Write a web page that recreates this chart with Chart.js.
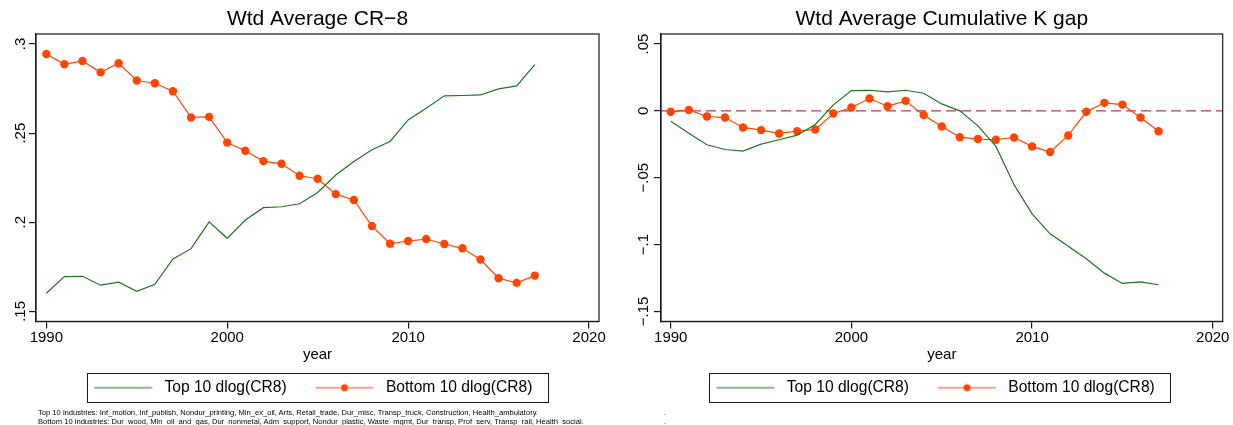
<!DOCTYPE html>
<html>
<head>
<meta charset="utf-8">
<script src="https://cdn.jsdelivr.net/npm/chart.js@4/dist/chart.umd.min.js"></script>
<style>
  html, body { margin: 0; padding: 0; background: #fff; }
  body { width: 1233px; height: 425px; position: relative; overflow: hidden; font-family: "Liberation Sans", Arial, sans-serif; }
  canvas { position: absolute; top: 0; }
  .note { position: absolute; font-size: 7.6px; line-height: 9px; color: #000; white-space: nowrap; }
</style>
</head>
<body>
<canvas id="cr8" width="616" height="425" style="left:0"></canvas>
<canvas id="kgap" width="616" height="425" style="left:617px"></canvas>
<div class="note" style="left:38px; top:407.5px">Top 10 industries: Inf_motion, Inf_publish, Nondur_printing, Min_ex_oil, Arts, Retail_trade, Dur_misc, Transp_truck, Construction, Health_ambulatory.<br>Bottom 10 industries: Dur_wood, Min_oil_and_gas, Dur_nonmetal, Adm_support, Nondur_plastic, Waste_mgmt, Dur_transp, Prof_serv, Transp_rail, Health_social.</div>
<div class="note" style="left:664px; top:407.5px">.<br>.</div>
<script>
// years on the x axis
const YEARS = [1990, 1991, 1992, 1993, 1994, 1995, 1996, 1997, 1998, 1999,
  2000, 2001, 2002, 2003, 2004, 2005, 2006, 2007, 2008, 2009,
  2010, 2011, 2012, 2013, 2014, 2015, 2016, 2017];

// left panel: weighted average CR-8
const CR8_TOP = [0.1602, 0.1695, 0.1697, 0.1647, 0.1664, 0.1613, 0.1652, 0.1794, 0.1852, 0.2002,
  0.1910, 0.2013, 0.2082, 0.2087, 0.2104, 0.2167, 0.2265, 0.2341, 0.2407, 0.2453,
  0.2574, 0.2640, 0.2709, 0.2711, 0.2714, 0.2748, 0.2765, 0.2884];
const CR8_BOTTOM = [0.2944, 0.2886, 0.2905, 0.2841, 0.2892, 0.2795, 0.2780, 0.2735, 0.2588, 0.2591,
  0.2447, 0.2401, 0.2343, 0.2328, 0.2261, 0.2244, 0.2158, 0.2125, 0.1979, 0.1880,
  0.1895, 0.1906, 0.1878, 0.1854, 0.1791, 0.1686, 0.1660, 0.1701];

// right panel: weighted average cumulative K gap
const KGAP_TOP = [-0.0077, -0.0167, -0.0254, -0.0289, -0.0301, -0.0249, -0.0216, -0.0182, -0.0102, 0.0045,
  0.0152, 0.0154, 0.0142, 0.0154, 0.0132, 0.0052, 0.0000, -0.0112, -0.0266, -0.0552,
  -0.0771, -0.0920, -0.1013, -0.1107, -0.1214, -0.1291, -0.1279, -0.1301];
const KGAP_BOTTOM = [-0.0007, 0.0007, -0.0042, -0.0050, -0.0124, -0.0144, -0.0169, -0.0152, -0.0139, -0.0020,
  0.0025, 0.0092, 0.0035, 0.0075, -0.0032, -0.0117, -0.0197, -0.0211, -0.0216, -0.0199,
  -0.0266, -0.0308, -0.0184, -0.0007, 0.0060, 0.0047, -0.0050, -0.0152];
const KGAP_REF = 0;

// ticks
const X_TICKS = [1990, 2000, 2010, 2020];
const CR8_Y_TICKS = [0.15, 0.2, 0.25, 0.3];
const CR8_Y_LABELS = ['.15', '.2', '.25', '.3'];
const KGAP_Y_TICKS = [-0.15, -0.1, -0.05, 0, 0.05];
const KGAP_Y_LABELS = ['\u2212.15', '\u2212.1', '\u2212.05', '0', '.05'];

const SERIES_NAMES = ['Top 10 dlog(CR8)', 'Bottom 10 dlog(CR8)'];

const GREEN = '#1c771c';
const ORANGE = '#ff4500';
const AXIS = '#1a1a1a';
const FONT = '"Liberation Sans", Arial, sans-serif';

// legend sample: line (with optional dot), drawn into a small canvas
function sample(color, dot) {
  const c = document.createElement('canvas');
  c.width = 74; c.height = 12;
  const g = c.getContext('2d');
  g.strokeStyle = color; g.lineWidth = 1.2;
  g.beginPath(); g.moveTo(11.5, 6); g.lineTo(69.5, 6); g.stroke();
  if (dot) { g.fillStyle = color; g.beginPath(); g.arc(40.5, 6, 3.6, 0, Math.PI * 2); g.fill(); }
  return c;
}
const LEGEND_IMG = [sample(GREEN, false), sample(ORANGE, true)];

const stataFrame = {
  id: 'stataFrame',
  afterLayout(chart, args, opts) {
    // nudge the legend row sideways, like the Stata legend
    chart.legend.left += opts.legendShift;
    chart.legend.right += opts.legendShift;
  },
  beforeDatasetsDraw(chart, args, opts) {
    if (opts.refLine === null || opts.refLine === undefined) return;
    const {ctx, chartArea} = chart;
    const y = chart.scales.y.getPixelForValue(opts.refLine);
    ctx.save();
    ctx.strokeStyle = '#b8375f'; ctx.lineWidth = 1.3; ctx.setLineDash([10, 5]);
    ctx.beginPath(); ctx.moveTo(chartArea.left, y); ctx.lineTo(chartArea.right, y); ctx.stroke();
    ctx.restore();
  },
  afterDraw(chart, args, opts) {
    const {ctx, chartArea} = chart;
    ctx.save();
    ctx.strokeStyle = AXIS; ctx.lineWidth = 1.2;
    ctx.strokeRect(chartArea.left, chartArea.top, chartArea.right - chartArea.left, chartArea.bottom - chartArea.top);
    // vertical y tick labels
    ctx.fillStyle = '#000';
    ctx.font = '15px ' + FONT;
    ctx.textAlign = 'center'; ctx.textBaseline = 'alphabetic';
    opts.yTicks.forEach((v, i) => {
      const y = chart.scales.y.getPixelForValue(v);
      ctx.save();
      ctx.translate(chartArea.left - opts.labelGap, y);
      ctx.rotate(-Math.PI / 2);
      ctx.fillText(opts.yLabels[i], 0, 0);
      ctx.restore();
    });
    // box around legend
    const hb = chart.legend.legendHitBoxes;
    if (hb && hb.length) {
      const last = hb[hb.length - 1];
      const cy = hb[0].top + 7.8;
      const l = hb[0].left + 11.5 - 7, r = last.left + last.width + 16;
      ctx.lineWidth = 1;
      ctx.strokeRect(Math.round(l) + 0.5, Math.round(cy - 15) + 0.5, Math.round(r - l), 29);
    }
    ctx.restore();
  }
};

function makeChart(id, title, top, bottom, yTicks, yLabels, xr, yr, yWidth, padRight, labelGap, refLine, legendShift) {
  const pts = arr => YEARS.map((yr2, i) => ({x: yr2, y: arr[i]}));
  return new Chart(document.getElementById(id), {
    type: 'line',
    data: {
      datasets: [
        {label: SERIES_NAMES[0], data: pts(top), borderColor: GREEN, borderWidth: 1.2, pointRadius: 0, tension: 0},
        {label: SERIES_NAMES[1], data: pts(bottom), borderColor: ORANGE, borderWidth: 1.2,
          pointRadius: 4.2, pointBackgroundColor: ORANGE, pointBorderWidth: 0, tension: 0}
      ]
    },
    options: {
      responsive: false,
      animation: false,
      layout: {padding: {left: 0, right: padRight, top: 0, bottom: 19.5}},
      scales: {
        x: {
          type: 'linear', min: xr[0], max: xr[1],
          afterBuildTicks: s => { s.ticks = X_TICKS.map(v => ({value: v})); },
          afterFit: s => { s.height = 41; },
          grid: {drawOnChartArea: false, drawTicks: true, tickLength: 7, color: AXIS, lineWidth: 1.2},
          border: {display: true, color: AXIS, width: 1.2},
          ticks: {color: '#000', font: {family: FONT, size: 15}, padding: 0, maxRotation: 0,
            callback: v => String(v)},
          title: {display: true, text: 'year', color: '#000', font: {family: FONT, size: 15}, padding: {top: 0, bottom: -1}}
        },
        y: {
          min: yr[0], max: yr[1],
          afterBuildTicks: s => { s.ticks = yTicks.map(v => ({value: v})); },
          afterFit: s => { s.width = yWidth; },
          grid: {drawOnChartArea: false, drawTicks: true, tickLength: 7, color: AXIS, lineWidth: 1.2},
          border: {display: true, color: AXIS, width: 1.2},
          ticks: {color: 'rgba(0,0,0,0)', font: {family: FONT, size: 15}}
        }
      },
      plugins: {
        title: {display: true, text: title, fullSize: false, color: '#000',
          font: {family: FONT, size: 21, weight: 'normal'}, padding: {top: 6.5, bottom: 2.3}},
        legend: {
          position: 'bottom', fullSize: false,
          labels: {
            usePointStyle: true, pointStyleWidth: 74, padding: 17.5, color: '#000',
            font: {family: FONT, size: 15.6},
            generateLabels: () => SERIES_NAMES.map((t, i) => ({
              text: t, pointStyle: LEGEND_IMG[i], fontColor: '#000', lineWidth: 0,
              strokeStyle: 'rgba(0,0,0,0)', fillStyle: 'rgba(0,0,0,0)', hidden: false, datasetIndex: i
            }))
          }
        },
        tooltip: {enabled: false},
        stataFrame: {yTicks: yTicks, yLabels: yLabels, labelGap: labelGap, refLine: refLine, legendShift: legendShift}
      }
    },
    plugins: [stataFrame]
  });
}

makeChart('cr8', 'Wtd Average CR\u22128', CR8_TOP, CR8_BOTTOM, CR8_Y_TICKS, CR8_Y_LABELS,
  [1989.43, 2020.55], [0.1444, 0.3056], 36, 17, 11, null, -10);
makeChart('kgap', 'Wtd Average Cumulative K gap', KGAP_TOP, KGAP_BOTTOM, KGAP_Y_TICKS, KGAP_Y_LABELS,
  [1989.46, 2020.55], [-0.1575, 0.0575], 44, 10.3, 13.5, KGAP_REF, -12);
</script>
</body>
</html>
